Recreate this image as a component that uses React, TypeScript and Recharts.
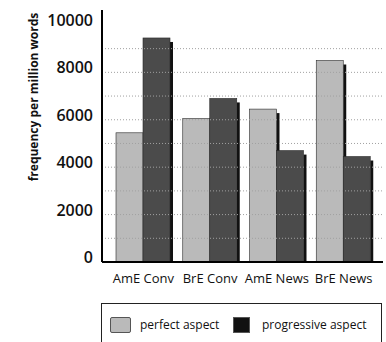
import React from "react";
import { BarChart, Bar, XAxis, YAxis, ReferenceLine } from "recharts";

const categories = ["AmE Conv", "BrE Conv", "AmE News", "BrE News"];
const perfectValues = [5450, 6050, 6450, 8500];
const progressiveValues = [9450, 6900, 4700, 4450];
const yTicks = [0, 2000, 4000, 6000, 8000, 10000];
const gridValues = [1000, 2000, 3000, 4000, 5000, 6000, 7000, 8000, 9000];
const seriesNames = ["perfect aspect", "progressive aspect"];
const seriesColors = ["#bababa", "#4b4b4b"];

const data = categories.map((c, i) => ({
  category: c,
  perfect: perfectValues[i],
  progressive: progressiveValues[i],
}));

const FONT = "'Open Sans', 'DejaVu Sans', sans-serif";

const ShadowBar = (props: any) => {
  const { x, y, width, height, fill } = props;
  if (height <= 0) return null;
  return (
    <g>
      <rect x={x + width} y={y + 4} width={3} height={Math.max(0, height - 4)} fill="#111" />
      <rect x={x} y={y} width={width} height={height} fill={fill} stroke="#2a2a2a" strokeWidth={0.6} />
    </g>
  );
};

const YTick = (props: any) => {
  const { x, y, payload } = props;
  return (
    <text x={x} y={y - 5} textAnchor="end" dominantBaseline="central" fontFamily={FONT} fontSize={16} fontWeight={600} fill="#111">
      {payload.value}
    </text>
  );
};

const XTick = (props: any) => {
  const { x, y, payload } = props;
  return (
    <text x={x} y={y + 8} textAnchor="middle" dominantBaseline="central" fontFamily={FONT} fontSize={13} fontWeight={500} fill="#111">
      {payload.value}
    </text>
  );
};

const YLabel = () => (
  <text
    x={33}
    y={97}
    transform="rotate(-90, 33, 97)"
    textAnchor="middle"
    dominantBaseline="central"
    fontFamily={FONT}
    fontSize={12}
    fontWeight={700}
    fill="#111"
  >
    frequency per million words
  </text>
);

export default function App() {
  return (
    <div style={{ position: "absolute", left: 0, top: 0, width: 386, height: 342, background: "#fff" }}>
      <BarChart
        width={386}
        height={342}
        data={data}
        margin={{ top: 10, right: 3, left: 0, bottom: 0 }}
        barGap={0}
        barSize={27}
      >
        {gridValues.map((v) => (
          <ReferenceLine key={v} y={v} stroke="#a0a0a0" strokeDasharray="1 2" strokeWidth={1} />
        ))}
        <XAxis
          dataKey="category"
          height={80}
          padding={{ left: 8, right: 6 }}
          axisLine={{ stroke: "#000", strokeWidth: 2 }}
          tickLine={false}
          tick={<XTick />}
          interval={0}
        />
        <YAxis
          width={102}
          domain={[0, 10630]}
          ticks={yTicks}
          allowDataOverflow
          axisLine={{ stroke: "#000", strokeWidth: 2 }}
          tickLine={false}
          tickSize={0}
          tickMargin={9}
          tick={<YTick />}
          label={{ content: () => <YLabel /> }}
        />
        <Bar dataKey="perfect" name={seriesNames[0]} fill={seriesColors[0]} shape={<ShadowBar />} isAnimationActive={false} />
        <Bar dataKey="progressive" name={seriesNames[1]} fill={seriesColors[1]} shape={<ShadowBar />} isAnimationActive={false} />
      </BarChart>
      <div
        style={{
          position: "absolute",
          left: 101,
          top: 303,
          width: 281,
          height: 45,
          borderTop: "1px solid #222",
          borderLeft: "1px solid #222",
          borderRight: "1px solid #222",
          boxSizing: "border-box",
          fontFamily: FONT,
          fontSize: 12,
          color: "#111",
        }}
      >
        {seriesNames.map((n, i) => (
          <div
            key={n}
            style={{
              position: "absolute",
              left: i === 0 ? 8 : 131,
              top: 12,
              display: "flex",
              alignItems: "center",
            }}
          >
            <div
              style={{
                width: i === 0 ? 21 : 17,
                height: 16,
                background: i === 0 ? seriesColors[0] : "#111",
                border: "1px solid #555",
                borderRadius: i === 0 ? 2 : 0,
                boxSizing: "border-box",
                marginRight: i === 0 ? 9 : 12,
              }}
            />
            <span>{n}</span>
          </div>
        ))}
      </div>
    </div>
  );
}
